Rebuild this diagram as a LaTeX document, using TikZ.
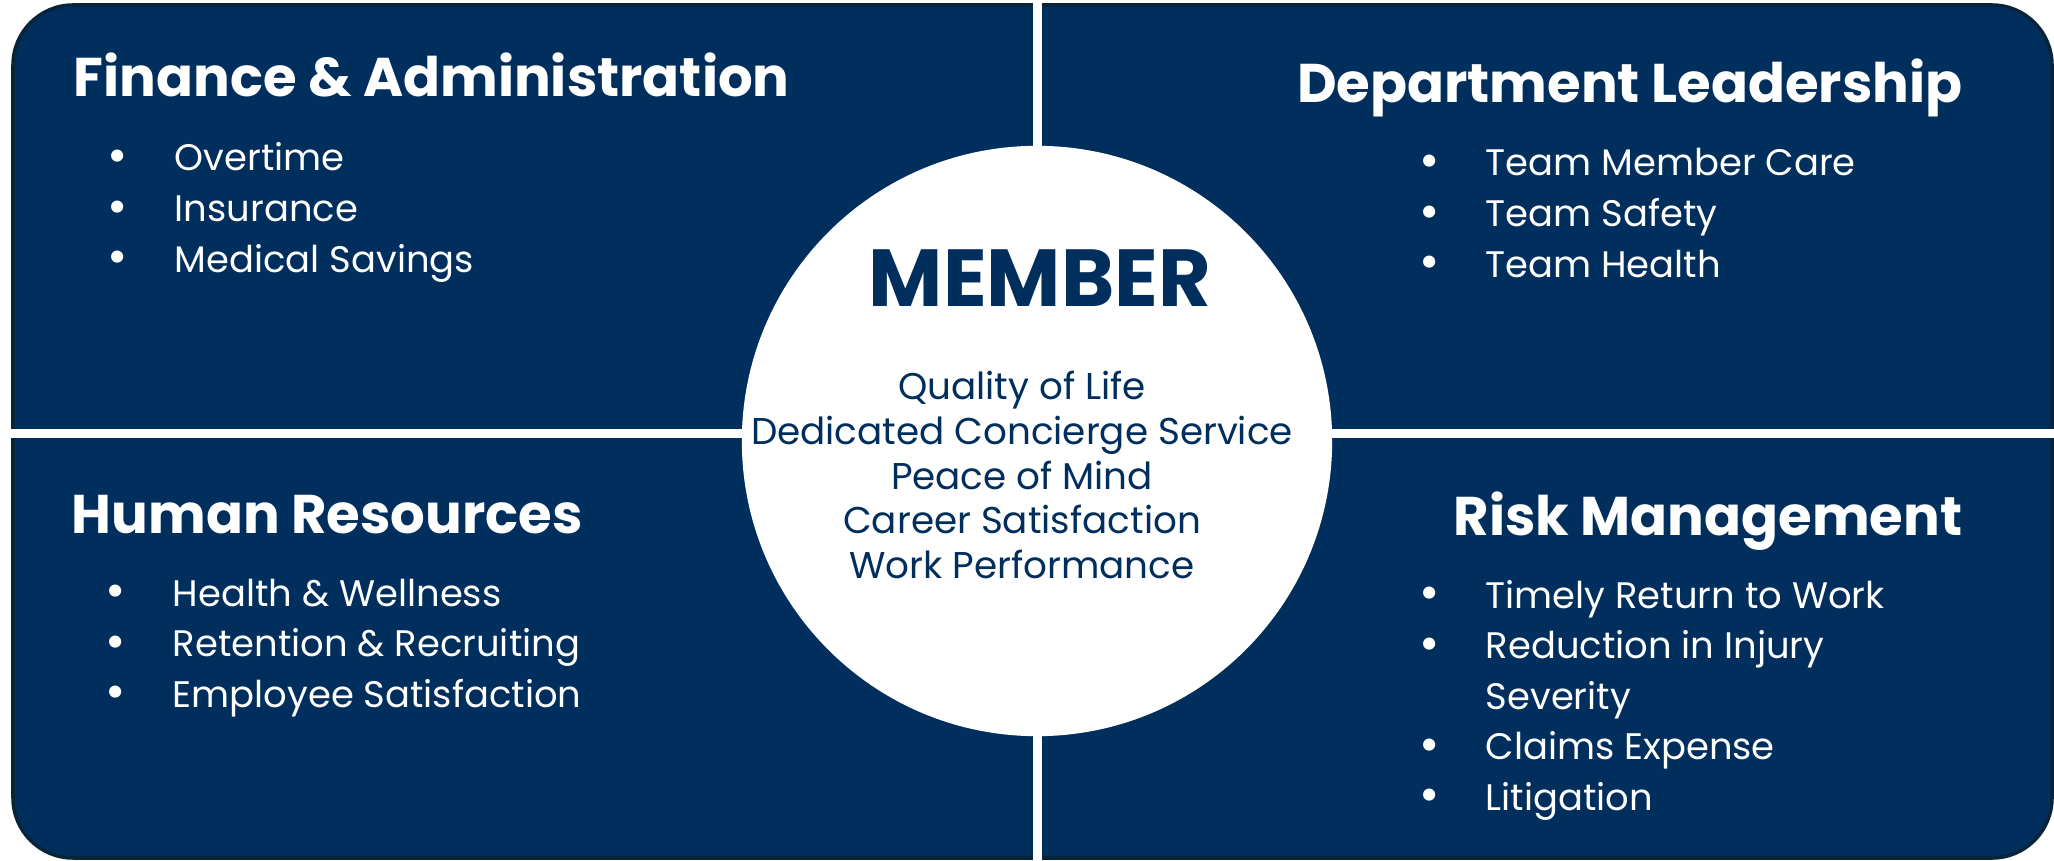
\documentclass[tikz,border=0pt]{standalone}
\usepackage{fontspec}
\setmainfont{Poppins}
\usetikzlibrary{shapes,positioning}

\definecolor{navy}{RGB}{0,46,93}
\definecolor{rim}{RGB}{8,36,56}

\tikzstyle{panel} = [fill=navy, draw=rim, line width=1pt, rounded corners=0.6cm]
\tikzstyle{gap} = [draw=white, line width=2.6pt]
\tikzstyle{hub} = [circle, fill=white, minimum size=5.9cm, inner sep=0pt]
\tikzstyle{head} = [text=white, inner sep=0pt, font=\fontsize{15.5}{18}\selectfont\bfseries]
\tikzstyle{title} = [text=navy, inner sep=0pt, anchor=base, font=\fontsize{23}{26}\selectfont\bfseries]
\tikzstyle{value} = [text=navy, inner sep=0pt, anchor=base, node distance=0.445cm, font=\fontsize{10.6}{13}\selectfont]
\tikzstyle{itemtext} = [text=white, inner sep=0pt, anchor=base west, node distance=0.505cm,
  text height=8pt, text depth=2.5pt, font=\fontsize{10.5}{13}\selectfont]
\tikzstyle{item} = [itemtext, label={[text=white, inner sep=0pt, label distance=0.45cm, font=\fontsize{14}{14}\selectfont]left:\textbullet}]

\begin{document}
\begin{tikzpicture}[x=0.01cm, y=0.01cm]

   \useasboundingbox (0,0) rectangle (2054,860);

   % navy board, split in four by white gaps
   \path[panel] (13,2) rectangle (2052,855);
   \draw[gap] (1037.5,0) -- (1037.5,860);
   \draw[gap] (0,426.5) -- (2054,426.5);

   \node[hub] (hub) at (1037,419) {};

   %% Centre
   \node[title] (member) at (1040,553) {MEMBER};
   \node[value] (v1) at (1022,460) {Quality of Life};
   \node[value, below=of v1.base, anchor=base] (v2) {Dedicated Concierge Service};
   \node[value, below=of v2.base, anchor=base] (v3) {Peace of Mind};
   \node[value, below=of v3.base, anchor=base] (v4) {Career Satisfaction};
   \node[value, below=of v4.base, anchor=base] (v5) {Work Performance};

   %% Finance & Administration
   \node[head, anchor=base west] (fa) at (73,763) {Finance \& Administration};
   \node[item] (fa1) at (174,689) {Overtime};
   \node[item, below=of fa1.base west, anchor=base west] (fa2) {Insurance};
   \node[item, below=of fa2.base west, anchor=base west] (fa3) {Medical Savings};

   %% Department Leadership
   \node[head, anchor=base east] (dl) at (1963,757) {Department Leadership};
   \node[item] (dl1) at (1485,684) {Team Member Care};
   \node[item, below=of dl1.base west, anchor=base west] (dl2) {Team Safety};
   \node[item, below=of dl2.base west, anchor=base west] (dl3) {Team Health};

   %% Human Resources
   \node[head, anchor=base west] (hr) at (71,327) {Human Resources};
   \node[item] (hr1) at (172,254) {Health \& Wellness};
   \node[item, below=of hr1.base west, anchor=base west] (hr2) {Retention \& Recruiting};
   \node[item, below=of hr2.base west, anchor=base west] (hr3) {Employee Satisfaction};

   %% Risk Management
   \node[head, anchor=base east] (rm) at (1963,324) {Risk Management};
   \node[item] (rm1) at (1485,252) {Timely Return to Work};
   \node[item, below=of rm1.base west, anchor=base west] (rm2) {Reduction in Injury};
   \node[itemtext, below=of rm2.base west, anchor=base west] (rm3) {Severity};
   \node[item, below=of rm3.base west, anchor=base west] (rm4) {Claims Expense};
   \node[item, below=of rm4.base west, anchor=base west] (rm5) {Litigation};

\end{tikzpicture}
\end{document}
